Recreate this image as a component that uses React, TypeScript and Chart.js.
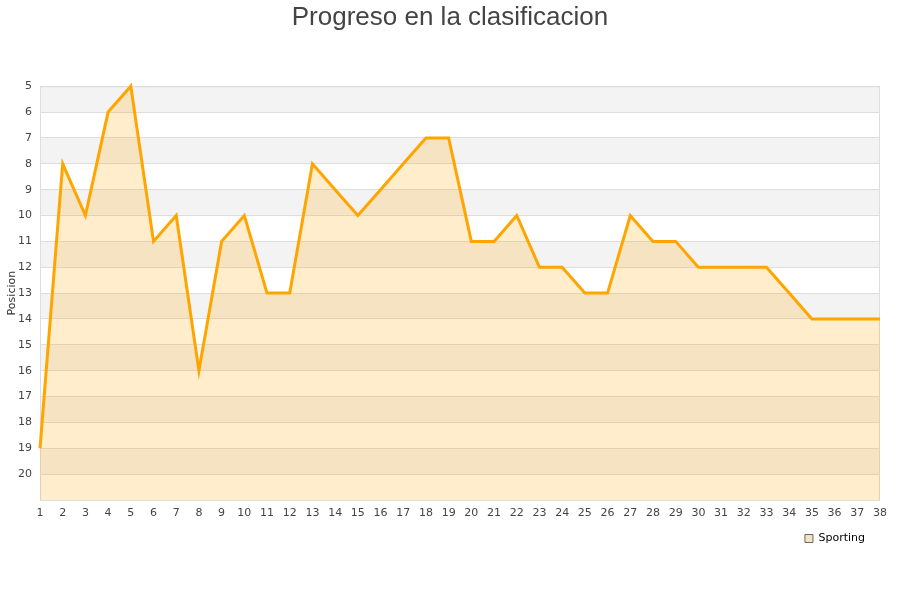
import React, { useEffect, useRef } from "react";
import { Chart, registerables } from "chart.js";

Chart.register(...registerables);

const rounds: string[] = Array.from({ length: 38 }, (_, i) => String(i + 1));
const positions: number[] = [19, 8, 10, 6, 5, 11, 10, 16, 11, 10, 13, 13, 8, 9, 10, 9, 8, 7, 7, 11, 11, 10, 12, 12, 13, 13, 10, 11, 11, 12, 12, 12, 12, 13, 14, 14, 14, 14];
const teamName = "Sporting";
const chartTitle = "Progreso en la clasificacion";
const yTitle = "Posicion";
const yMin = 5;
const yMax = 21;

const bandsPlugin = {
  id: "bands",
  beforeDraw(chart: any) {
    const { ctx, chartArea } = chart;
    const y = chart.scales.y;
    ctx.save();
    ctx.fillStyle = "#ffffff";
    ctx.fillRect(chartArea.left, chartArea.top, chartArea.right - chartArea.left, chartArea.bottom - chartArea.top);
    for (let v = yMin; v < yMax; v += 2) {
      const a = y.getPixelForValue(v);
      const b = y.getPixelForValue(v + 1);
      ctx.fillStyle = "#f3f3f3";
      ctx.fillRect(chartArea.left, Math.min(a, b), chartArea.right - chartArea.left, Math.abs(b - a));
    }
    ctx.restore();
  },
  beforeDatasetsDraw(chart: any) {
    const { ctx, chartArea } = chart;
    ctx.save();
    ctx.strokeStyle = "#dddddd";
    ctx.lineWidth = 1;
    ctx.strokeRect(chartArea.left + 0.5, chartArea.top + 0.5, chartArea.right - chartArea.left - 1, chartArea.bottom - chartArea.top);
    ctx.restore();
  },
};

export default function App() {
  const ref = useRef<HTMLCanvasElement>(null);
  useEffect(() => {
    document.body.style.margin = "0";
    const chart = new Chart(ref.current!, {
      type: "line",
      data: {
        labels: rounds,
        datasets: [
          {
            label: teamName,
            data: positions,
            borderColor: "#ffa500",
            backgroundColor: "rgba(255,165,0,0.2)",
            borderWidth: 3,
            pointRadius: 0,
            tension: 0,
            fill: "start",
            clip: false as any,
          },
        ],
      },
      options: {
        animation: false,
        responsive: false,
        layout: { padding: { top: 0, right: 0, bottom: 46, left: 0 } },
        plugins: {
          title: {
            display: true,
            text: chartTitle,
            color: "#444444",
            font: { family: "'Liberation Sans', Arial, sans-serif", size: 26, weight: "normal" },
            padding: { top: 2, bottom: 53 },
          },
          legend: {
            display: true,
            position: "bottom",
            align: "end",
            fullSize: false,
            labels: {
              boxWidth: 8,
              boxHeight: 8,
              color: "#222222",
              font: { family: "'DejaVu Sans', sans-serif", size: 11 },
              padding: 15,
              generateLabels: () => [
                {
                  text: teamName,
                  fillStyle: "#f5e3c2",
                  strokeStyle: "#666666",
                  lineWidth: 1,
                  datasetIndex: 0,
                } as any,
              ],
            },
          },
          tooltip: { enabled: false },
        },
        scales: {
          x: {
            offset: false,
            grid: { display: false, drawTicks: false },
            border: { display: false },
            ticks: {
              autoSkip: false,
              maxRotation: 0,
              color: "#444444",
              font: { family: "'DejaVu Sans', sans-serif", size: 11 },
              padding: 7,
            },
            afterFit: (s: any) => {
              s.height = 18;
              s.paddingLeft = 0;
              s.paddingRight = 20;
            },
          },
          y: {
            reverse: true,
            min: yMin,
            max: yMax,
            grid: { color: "#dddddd", drawTicks: false },
            border: { display: false },
            title: {
              display: true,
              text: yTitle,
              color: "#333333",
              font: { family: "'DejaVu Sans', sans-serif", size: 11 },
              padding: 6,
            },
            ticks: {
              stepSize: 1,
              color: "#444444",
              font: { family: "'DejaVu Sans', sans-serif", size: 11 },
              padding: 8,
              callback: (v: any) => (v === yMax ? "" : String(v)),
            },
            afterFit: (s: any) => {
              s.width = 40;
              s.paddingTop = 0;
              s.paddingBottom = 0;
            },
          },
        },
      },
      plugins: [bandsPlugin],
    });
    return () => chart.destroy();
  }, []);
  return <canvas ref={ref} width={900} height={600} style={{ display: "block" }} />;
}
